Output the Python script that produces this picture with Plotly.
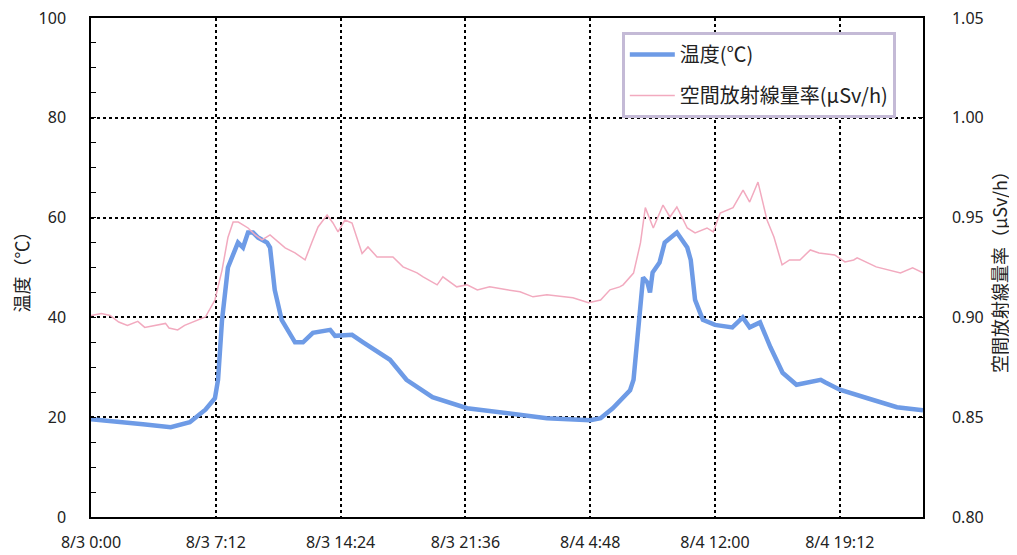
import plotly.graph_objects as go

# Time in hours from 8/3 0:00
temp_hours = [0, 1.5, 3.0, 4.6, 5.7, 6.6, 7.0, 7.15, 7.33, 7.56, 7.9, 8.48, 8.77, 9.06, 9.35, 9.64,
              10.16, 10.33, 10.6, 11.0, 11.77, 12.23, 12.8, 13.8, 14.08, 15.06, 15.7, 17.25, 18.2,
              19.7, 21.7, 24.0, 26.3, 28.8, 29.4, 30.1, 31.1, 31.3, 31.6, 31.85, 32.1, 32.25, 32.4,
              32.8, 33.1, 33.5, 33.8, 34.1, 34.4, 34.6, 34.85, 35.3, 36.0, 37.0, 37.3, 37.6, 38.0,
              38.6, 39.2, 39.9, 40.7, 42.1, 42.35, 43.2, 44.8, 46.5, 48.0]
temp_values = [19.6, 19.0, 18.6, 18.0, 19.0, 21.5, 23.0, 23.8, 27.5, 39.5, 50.0, 55.0, 54.0, 57.0, 57.0, 56.0,
               55.0, 54.0, 45.5, 39.5, 35.0, 35.0, 36.9, 37.5, 36.3, 36.5, 35.0, 31.5, 27.5,
               24.0, 21.8, 20.8, 19.8, 19.4, 19.8, 21.8, 25.4, 27.5, 40.0, 48.0, 47.0, 45.0, 49.0,
               51.0, 55.0, 56.0, 57.0, 55.5, 54.0, 51.5, 43.5, 39.5, 38.5, 38.0, 39.0, 40.0, 38.0,
               39.0, 34.0, 28.9, 26.5, 27.5, 27.0, 25.5, 23.8, 22.0, 21.4]

rad_hours = [0, 0.6, 1.1, 1.6, 2.1, 2.7, 3.1, 3.7, 4.3, 4.5, 5.0, 5.4, 6.2, 6.6, 7.15, 7.56, 7.9, 8.2,
             8.5, 9.06, 9.47, 9.87, 10.33, 11.2, 11.77, 12.35, 12.75, 13.1, 13.62, 13.96, 14.25,
             14.65, 15.06, 15.64, 15.98, 16.5, 17.42, 18.0, 18.81, 19.16, 19.97, 20.3, 21.1, 21.7,
             22.29, 23.0, 24.0, 24.75, 25.5, 26.3, 27.8, 28.7, 29.4, 29.94, 30.5, 30.7, 31.3, 31.7,
             31.98, 32.44, 33.0, 33.4, 33.8, 34.4, 34.85, 35.54, 35.9, 36.3, 37.04, 37.62, 38.0,
             38.48, 39.0, 39.4, 39.87, 40.3, 40.9, 41.5, 42.0, 42.9, 43.5, 44.0, 44.2, 45.3, 46.7,
             47.4, 48.0]
rad_values = [0.901, 0.902, 0.901, 0.8977, 0.896, 0.898, 0.895, 0.896, 0.897, 0.8947, 0.8937, 0.896,
              0.8987, 0.9002, 0.9087, 0.9237, 0.940, 0.9478, 0.9478, 0.9448, 0.9413, 0.9388, 0.9413,
              0.9348, 0.9323, 0.9288, 0.9378, 0.9453, 0.9513, 0.9473, 0.9428, 0.9488, 0.9473,
              0.932, 0.9353, 0.9303, 0.9303, 0.9253, 0.9223, 0.9203, 0.9163, 0.9203, 0.9153,
              0.9163, 0.9138, 0.9153, 0.9138, 0.9128, 0.9103, 0.9113, 0.9098, 0.9073, 0.9087,
              0.9138, 0.9153, 0.9163, 0.9222, 0.9373, 0.955, 0.9448, 0.9563, 0.9503, 0.9553, 0.9448,
              0.9423, 0.9448, 0.9428, 0.9523, 0.955, 0.9638, 0.9578, 0.9678, 0.9488, 0.9403, 0.9263,
              0.9288, 0.9288, 0.9338, 0.9323, 0.9313, 0.9278, 0.9288, 0.9298, 0.9253, 0.9223,
              0.9248, 0.9223]

x_tick_hours = [0, 7.2, 14.4, 21.6, 28.8, 36.0, 43.2]
x_tick_labels = ["8/3 0:00", "8/3 7:12", "8/3 14:24", "8/3 21:36", "8/4 4:48", "8/4 12:00", "8/4 19:12"]
left_ticks = [0, 20, 40, 60, 80, 100]
right_ticks = [0.80, 0.85, 0.90, 0.95, 1.00, 1.05]

name_temp = "温度(℃)"
name_rad = "空間放射線量率(μSv/h)"
title_left = "温度（℃）"
title_right = "空間放射線量率（µSv/h）"

FONT = "Noto Sans CJK JP, Noto Sans, sans-serif"
TICKFONT = dict(family="Liberation Sans Narrow, Noto Sans, sans-serif", size=16, color="#222")
NUMFONT = dict(family="Noto Sans, sans-serif", size=16, color="#222")

fig = go.Figure()
fig.add_trace(go.Scatter(x=temp_hours, y=temp_values, name=name_temp, mode="lines",
                         legendgroup="a",
                         line=dict(color="#6e9be6", width=4.5), yaxis="y"))
fig.add_trace(go.Scatter(x=rad_hours, y=rad_values, name=name_rad, mode="lines",
                         legendgroup="b",
                         line=dict(color="#f2aabf", width=1.5), yaxis="y2"))

# page body has an 8px default margin, so the figure is offset by 8px
fig.update_layout(
    width=1009, height=547,
    margin=dict(l=83, r=94, t=10, b=38),
    plot_bgcolor="white", paper_bgcolor="white",
    font=dict(family=FONT, size=15, color="#222"),
    xaxis=dict(range=[0, 48], tickvals=x_tick_hours, ticktext=x_tick_labels,
               showgrid=True, gridcolor="black", griddash="dot", gridwidth=1.5,
               showline=True, linecolor="black", linewidth=1.5, mirror=True,
               ticks="", tickfont=TICKFONT, ticklabelstandoff=10, zeroline=False,
               automargin=False, ticklabeloverflow="allow"),
    yaxis=dict(range=[0, 100], tickvals=left_ticks,
               showgrid=True, gridcolor="black", griddash="dot", gridwidth=1.5,
               showline=True, linecolor="black", linewidth=1.5,
               ticks="inside", ticklen=5, tickcolor="black",
               minor=dict(dtick=5, ticks="inside", ticklen=5, tickcolor="black", showgrid=False),
               tickfont=NUMFONT, ticklabelstandoff=20, zeroline=False, automargin=False,
               ticklabeloverflow="allow",
               title=dict(text=title_left, font=dict(family=FONT, size=18, color="#222"), standoff=26)),
    yaxis2=dict(range=[0.80, 1.05], tickvals=right_ticks, tickformat=".2f",
                overlaying="y", side="right", showgrid=False,
                showline=True, linecolor="black", linewidth=1.5,
                ticks="inside", ticklen=5, tickcolor="black",
                tickfont=NUMFONT, ticklabelstandoff=24, zeroline=False, automargin=False,
                ticklabeloverflow="allow",
                title=dict(text=title_right, font=dict(family=FONT, size=18, color="#222"), standoff=12)),
    legend=dict(x=0.638, y=0.972, xanchor="left", yanchor="top",
                bgcolor="white", bordercolor="#c4bad6", borderwidth=3,
                font=dict(family=FONT, size=20, color="#222"),
                itemwidth=45, tracegroupgap=12),
    showlegend=True,
)

fig.write_html("out.html")
